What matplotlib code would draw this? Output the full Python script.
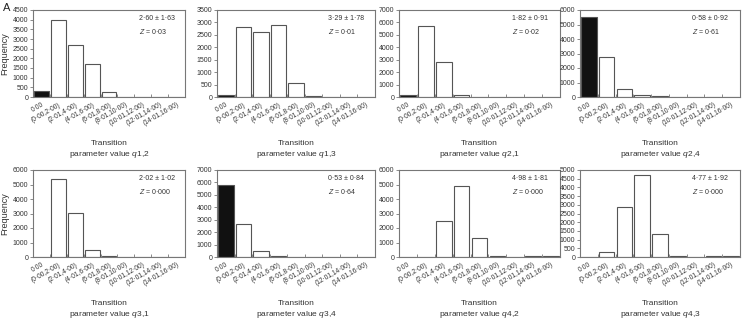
import matplotlib.pyplot as plt
import numpy as np

plt.rcParams['font.family'] = ['Liberation Sans', 'DejaVu Sans']
plt.rcParams['mathtext.fontset'] = 'custom'
plt.rcParams['mathtext.rm'] = 'Liberation Sans'
plt.rcParams['mathtext.it'] = 'Liberation Sans:italic'

# bin labels (shared by all panels)
bins = ['0·00', '(0·00,2·00)', '(2·01,4·00)', '(4·01,6·00)', '(6·01,8·00)',
        '(8·01,10·00)', '(10·01,12·00)', '(12·01,14·00)', '(14·01,16·00)']

# frequencies
q12 = [300, 4000, 2700, 1720, 280, 5, 0, 0, 0]
q13 = [80, 2830, 2600, 2880, 550, 30, 0, 0, 0]
q21 = [170, 5750, 2820, 200, 10, 0, 0, 0, 0]
q24 = [5500, 2780, 580, 110, 50, 5, 0, 0, 0]
q31 = [0, 5400, 3050, 500, 50, 0, 0, 0, 0]
q34 = [5800, 2650, 520, 80, 5, 0, 0, 0, 0]
q42 = [0, 30, 2480, 4870, 1300, 100, 30, 60, 50]
q43 = [0, 280, 2850, 4700, 1300, 60, 20, 40, 40]

names = ['1,2', '1,3', '2,1', '2,4', '3,1', '3,4', '4,2', '4,3']
series = [q12, q13, q21, q24, q31, q34, q42, q43]
stats = ['2·60 ± 1·63', '3·29 ± 1·78', '1·82 ± 0·91', '0·58 ± 0·92',
         '2·02 ± 1·02', '0·53 ± 0·84', '4·98 ± 1·81', '4·77 ± 1·92']
zvals = ['0·03', '0·01', '0·02', '0·61', '0·000', '0·64', '0·000', '0·000']
ymax = [4500, 3500, 7000, 6000, 6000, 7000, 6000, 5000]
ystep = [500, 500, 1000, 1000, 1000, 1000, 1000, 500]

W, H = 742, 320
fig = plt.figure(figsize=(W / 100, H / 100), dpi=100)

# axes boxes in pixels: (left, right) per column, (top, bottom) per row
cols = [(33, 185), (217, 375), (399, 560), (580, 740)]
rows = [(10, 97), (170, 257)]

ink = '#333333'
x = np.arange(len(bins))

for i, vals in enumerate(series):
    r, c = divmod(i, 4)
    l, rr = cols[c]
    t, b = rows[r]
    ax = fig.add_axes([l / W, 1 - b / H, (rr - l) / W, (b - t) / H])
    colors = ['#111111'] + ['white'] * (len(bins) - 1)
    ax.bar(x, vals, width=0.88, color=colors, edgecolor='#555555', linewidth=0.8)
    ax.set_xlim(-0.5, len(bins) - 0.5)
    ax.set_ylim(0, ymax[i])
    ax.set_yticks(np.arange(0, ymax[i] + 1, ystep[i]))
    ax.set_xticks(x)
    ax.set_xticklabels(bins, rotation=30, ha='right', rotation_mode='anchor',
                       fontsize=4.8, color=ink)
    ax.set_xticks(x[:-1] + 0.5, minor=True)
    ax.tick_params(axis='x', which='major', length=0, pad=3)
    ax.tick_params(axis='x', which='minor', length=2, direction='in', color='#777777')
    ax.tick_params(axis='y', labelsize=5, labelcolor=ink, length=2, width=0.6,
                   color='#777777', pad=1.5)
    for s in ax.spines.values():
        s.set_color('#777777')
        s.set_linewidth(0.8)
    ax.text(0.70, 0.94, stats[i], transform=ax.transAxes, fontsize=5,
            color=ink, va='top')
    ax.text(0.70, 0.80, '$Z$ = ' + zvals[i], transform=ax.transAxes, fontsize=5,
            color=ink, va='top')
    ax.set_xlabel('Transition\nparameter value $q$' + names[i], fontsize=6,
                  color=ink, labelpad=9, linespacing=1.25)
    if c == 0:
        ax.set_ylabel('Frequency', fontsize=6.5, color=ink, labelpad=2)

fig.text(3 / W, 1 - 3 / H, 'A', fontsize=8, color='#222222', va='top')

fig.savefig('out.png', dpi=100)
